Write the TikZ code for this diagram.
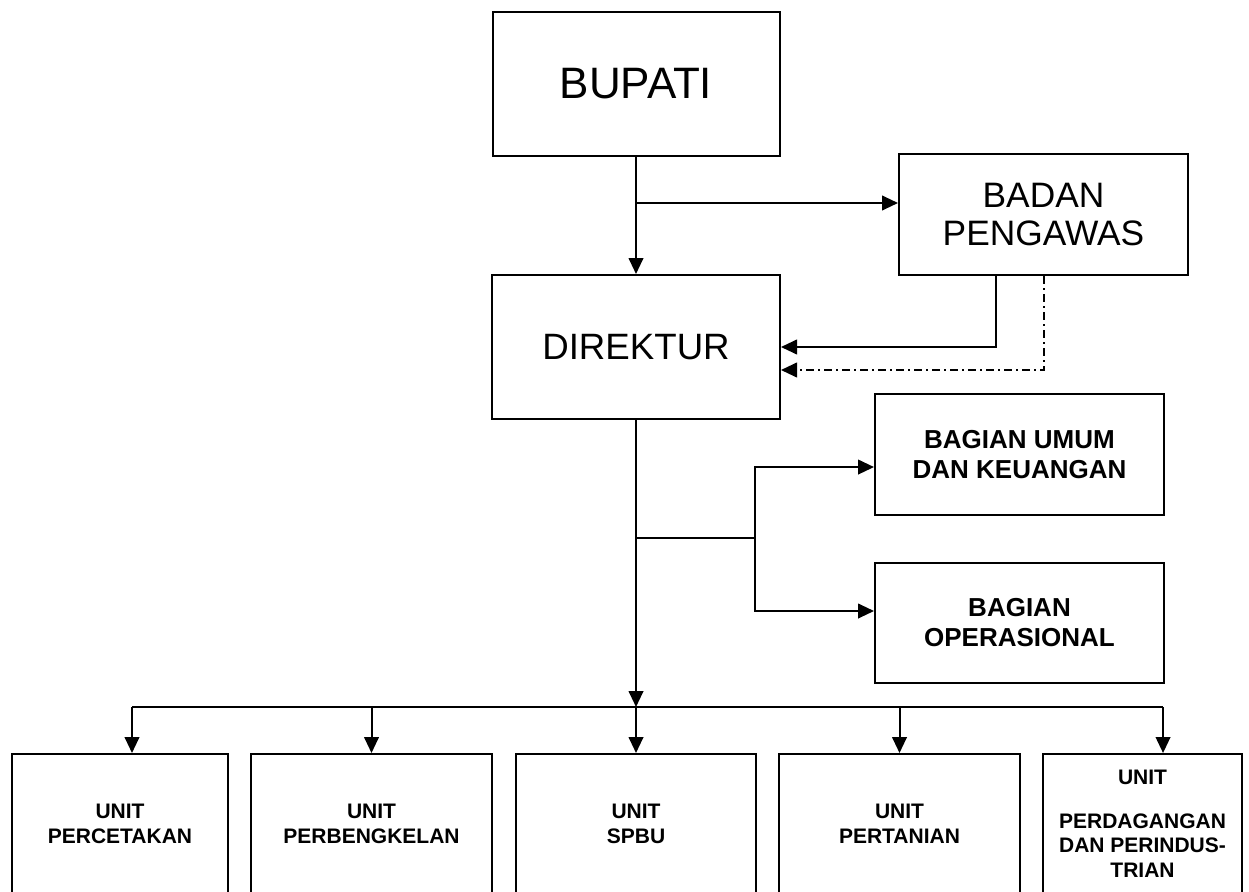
\documentclass[tikz,border=0pt]{standalone}
\usepackage{fontspec}
\setmainfont{Liberation Sans}
\usetikzlibrary{arrows.meta}
\begin{document}
\begin{tikzpicture}[x=0.75pt, y=-0.75pt,
    box/.style={draw, line width=1.5pt, align=center, inner sep=0pt},
    bigbox/.style={box, font=\fontsize{26.5}{28}\selectfont},
    bagbox/.style={box, font=\fontsize{19.5}{22.5}\selectfont\bfseries, minimum width=216.75pt, minimum height=90.75pt},
    unitbox/.style={box, font=\fontsize{15.75}{18.5}\selectfont\bfseries, minimum height=105pt},
    arr/.style={line width=1.5pt, -{Triangle[length=12pt, width=11pt]}},
    link/.style={line width=1.5pt}]
  \useasboundingbox (0,0) rectangle (1249,892);
  \clip (0,0) rectangle (1249,892);
  % top levels
  \node[bigbox, minimum width=215.25pt, minimum height=108pt, font=\fontsize{33}{36}\selectfont] (bupati) at (636,84) {BUPATI};
  \node[bigbox, minimum width=216.75pt, minimum height=90.75pt] (badan) at (1043.5,214.5) {BADAN\\PENGAWAS};
  \node[bigbox, minimum width=216pt, minimum height=108pt, font=\fontsize{27.5}{30}\selectfont] (direktur) at (636,347) {DIREKTUR};
  \node[bagbox] (umum) at (1019.5,454.5) {BAGIAN UMUM\\DAN KEUANGAN};
  \node[bagbox, minimum height=90pt] (ops) at (1019.5,623) {BAGIAN\\OPERASIONAL};
  % units
  \node[unitbox, minimum width=162pt] (u1) at (120,824) {UNIT\\PERCETAKAN};
  \node[unitbox, minimum width=180.75pt] (u2) at (371.5,824) {UNIT\\PERBENGKELAN};
  \node[unitbox, minimum width=180pt] (u3) at (636,824) {UNIT\\SPBU};
  \node[unitbox, minimum width=180.75pt] (u4) at (899.5,824) {UNIT\\PERTANIAN};
  \node[unitbox, minimum width=149.25pt] (u5) at (1142.5,824) {UNIT\\[14pt]PERDAGANGAN\\DAN PERINDUS-\\TRIAN};
  % connectors
  \coordinate (j1) at (636,203);
  \coordinate (j2) at (636,538);
  \coordinate (j3) at (755,538);
  \coordinate (bus) at (636,707);
  \draw[arr] (bupati) -- (direktur);
  \draw[arr] (j1) -- (j1 -| badan.west);
  \draw[arr] ([xshift=-35.6pt]badan.south) |- (direktur.east);
  \draw[arr, dash pattern=on 6pt off 3pt on 1.5pt off 3pt] (badan.south) |- ([yshift=-17.25pt]direktur.east);
  \draw[arr] (direktur) -- (bus);
  \draw[link] (j2) -- (j3);
  \draw[arr] (j3) |- ([yshift=-9.4pt]umum.west);
  \draw[arr] (j3) |- ([yshift=9pt]ops.west);
  \coordinate (t1) at ([xshift=9pt]u1.north);
  \coordinate (t2) at (u2.north);
  \coordinate (t3) at (u3.north);
  \coordinate (t4) at (u4.north);
  \coordinate (t5) at ([xshift=15.4pt]u5.north);
  \draw[link] (t1 |- bus) -- (t5 |- bus);
  \foreach \t in {t1,t2,t3,t4,t5}
    \draw[arr] (\t |- bus) -- (\t);
\end{tikzpicture}
\end{document}
